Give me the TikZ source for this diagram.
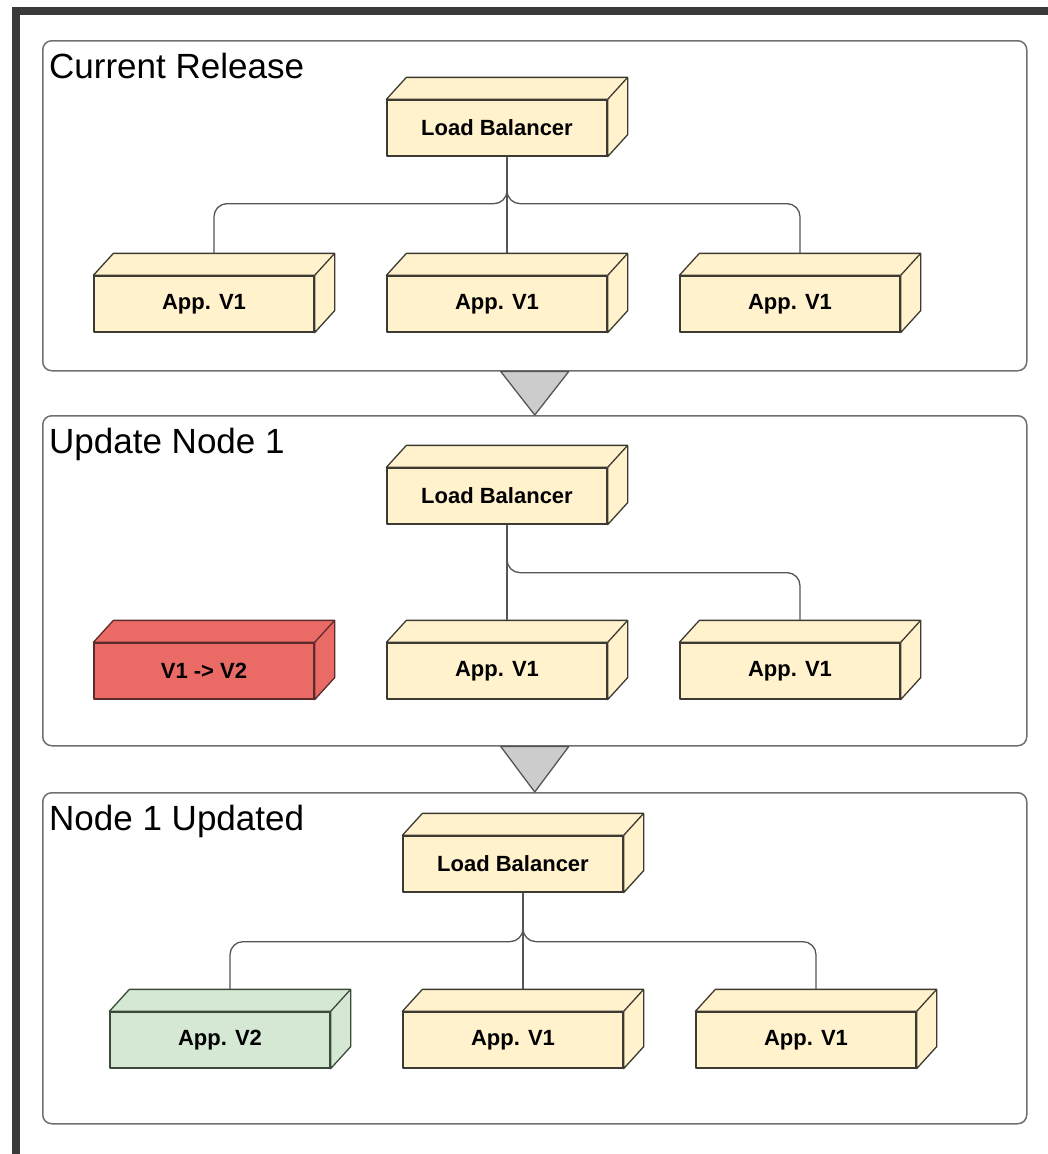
\documentclass[tikz,border=0pt]{standalone}
\usepackage{fontspec}
\setmainfont{Liberation Sans}
\definecolor{cream}{HTML}{FFF2CC}
\definecolor{creamline}{HTML}{3D3A32}
\definecolor{redfill}{HTML}{EA6B66}
\definecolor{redline}{HTML}{5E2B2B}
\definecolor{greenfill}{HTML}{D5E8D4}
\definecolor{greenline}{HTML}{3C4A3C}
\definecolor{panelline}{HTML}{707070}
\definecolor{wireline}{HTML}{555555}
\definecolor{framegray}{HTML}{3A3A3A}
\tikzset{
    every node/.style={align=center,},
    panel/.style={draw=panelline,line width=1.5pt,rounded corners=9pt,anchor=north west,
        minimum width=984pt,minimum height=330pt,inner sep=0pt},
    title/.style={anchor=base west,inner sep=0pt,font=\fontsize{35}{40}\selectfont},
    server/.style={line width=1.3pt,line join=round,minimum width=220pt,minimum height=56pt,
        inner sep=0pt,font=\bfseries\fontsize{22}{26}\selectfont},
    v1/.style={draw=creamline,fill=cream},
    v2/.style={draw=greenline,fill=greenfill},
    busy/.style={draw=redline,fill=redfill},
    wire/.style={draw=wireline,line width=1.3pt,rounded corners=13pt},
    flow/.style={draw=wireline,fill=black!20,line width=1.3pt,line join=round},
}
% front face as node, top and side faces drawn behind it
\newcommand{\serverbox}[4][v1]{%
    \node[server,#1] (#2) at (#3) {#4};
    \draw[server,#1] (#2.north west) -- ++(20,-22) -- ([shift={(20,-22)}]#2.north east)
        -- ([shift={(20,-22)}]#2.south east) -- (#2.south east) -- (#2.north east) -- cycle;
    \draw[server,#1] (#2.north east) -- ++(20,-22);
    \coordinate (#2-top) at ([shift={(10,-22)}]#2.north);
    \coordinate (#2-bot) at ([xshift=10]#2.south);
}

\begin{document}
\begin{tikzpicture}[x=1pt,y=-1pt]
    \useasboundingbox (0,0) rectangle (1048,1154);
    \fill[framegray] (12,7) rectangle (1048,15);
    \fill[framegray] (12,7) rectangle (20,1154);

    % panels
    \node[panel] (p1) at (42,40) {};
    \node[panel] (p2) at (42,415) {};
    \node[panel,minimum height=331pt] (p3) at (42,792) {};
    \node[title] (t1) at (49,78) {Current Release};
    \node[title] (t2) at (49,453) {Update Node 1};
    \node[title] (t3) at (49,830) {Node 1 Updated};

    \draw[flow] ([xshift=-34]p1.south) -- ([xshift=34]p1.south) -- (p2.north) -- cycle;
    \draw[flow] ([xshift=-34]p2.south) -- ([xshift=34]p2.south) -- (p3.north) -- cycle;

    % current release
    \serverbox{lb1}{497,128}{Load Balancer}
    \serverbox{a1}{204,304}{App. V1}
    \serverbox{a2}{497,304}{App. V1}
    \serverbox{a3}{790,304}{App. V1}
    \draw[wire] (lb1-bot) -- ++(0,47) -| (a1-top);
    \draw[wire] (lb1-bot) -- (a2-top);
    \draw[wire] (lb1-bot) -- ++(0,47) -| (a3-top);

    % update node 1
    \serverbox{lb2}{497,496}{Load Balancer}
    \serverbox[busy]{b1}{204,671}{V1 -> V2}
    \serverbox{b2}{497,671}{App. V1}
    \serverbox{b3}{790,671}{App. V1}
    \draw[wire] (lb2-bot) -- (b2-top);
    \draw[wire] (lb2-bot) -- ++(0,48) -| (b3-top);

    % node 1 updated
    \serverbox{lb3}{513,864}{Load Balancer}
    \serverbox[v2]{c1}{220,1040}{App. V2}
    \serverbox{c2}{513,1040}{App. V1}
    \serverbox{c3}{806,1040}{App. V1}
    \draw[wire] (lb3-bot) -- ++(0,49) -| (c1-top);
    \draw[wire] (lb3-bot) -- (c2-top);
    \draw[wire] (lb3-bot) -- ++(0,49) -| (c3-top);
\end{tikzpicture}
\end{document}
